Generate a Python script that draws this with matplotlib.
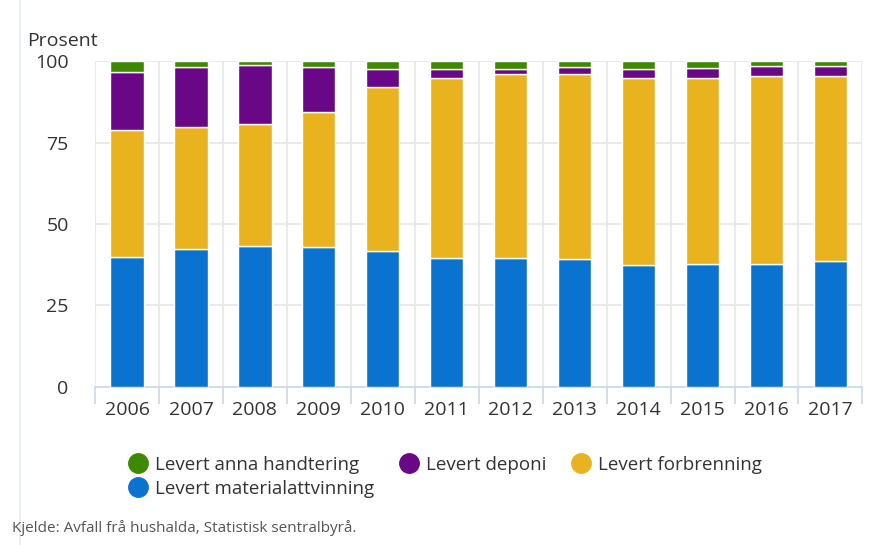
import numpy as np
from matplotlib import pyplot as plt
from matplotlib.lines import Line2D

plt.rcParams['font.family'] = ['Open Sans', 'DejaVu Sans']

years = ['2006', '2007', '2008', '2009', '2010', '2011',
         '2012', '2013', '2014', '2015', '2016', '2017']
# prosentdelar per år
materialattvinning = [40.0, 42.3, 43.3, 43.0, 41.7, 39.6, 39.6, 39.3, 37.4, 37.7, 37.7, 38.7]
forbrenning = [38.8, 37.5, 37.4, 41.3, 50.2, 55.3, 56.4, 56.6, 57.5, 57.2, 57.7, 56.7]
deponi = [17.9, 18.5, 18.1, 14.0, 5.8, 2.7, 1.6, 2.4, 2.7, 3.1, 3.2, 3.2]
anna = [3.3, 1.7, 1.2, 1.7, 2.3, 2.4, 2.4, 1.7, 2.4, 2.0, 1.4, 1.4]

series = [
    ('Levert materialattvinning', materialattvinning, '#0a73cf'),
    ('Levert forbrenning', forbrenning, '#e9b320'),
    ('Levert deponi', deponi, '#6a0787'),
    ('Levert anna handtering', anna, '#3d8a00'),
]

fig = plt.figure(figsize=(8.72, 5.45), dpi=100)
ax = fig.add_axes([0.109, 0.29, 0.88, 0.598])

x = np.arange(len(years))
bottom = np.zeros(len(years))
for name, vals, col in series:
    ax.bar(x, vals, width=0.52, bottom=bottom, color=col, edgecolor='white',
           linewidth=1.0, zorder=3)
    bottom += np.array(vals)

ax.set_xlim(-0.5, len(years) - 0.5)
ax.set_ylim(0, 100)
ax.set_yticks([0, 25, 50, 75, 100])
ax.set_xticks(x)
ax.set_xticklabels(years)
ax.set_xticks(np.arange(-0.5, len(years)), minor=True)

ax.grid(axis='y', color='#e6e6e6', linewidth=1.2, zorder=0)
ax.grid(axis='x', which='minor', color='#e6e6e6', linewidth=1.2, zorder=0)
ax.tick_params(axis='x', which='major', length=0, labelsize=14, colors='#333333', pad=10)
ax.tick_params(axis='x', which='minor', length=12, color='#d0d8e8', width=1.2)
ax.tick_params(axis='y', length=0, labelsize=14, colors='#333333', pad=19)

for side in ['top', 'right', 'left']:
    ax.spines[side].set_visible(False)
ax.spines['bottom'].set_color('#ccd6eb')
ax.spines['bottom'].set_linewidth(1.2)

fig.text(27 / 872, 1 - 41 / 545, 'Prosent', fontsize=14, color='#333333', va='center')

# legend: radvis rekkjefølgje (anna, deponi, forbrenning / materialattvinning)
order = [series[3], series[0], series[2], series[1]]
handles = []
for name, vals, col in order:
    handles.append(Line2D([], [], marker='o', linestyle='', markersize=14,
                          markerfacecolor=col, markeredgecolor=col, label=name))
fig.legend(handles=handles, loc='upper left', bbox_to_anchor=(110 / 872, 1 - 439 / 545),
           ncol=3, frameon=False, fontsize=13.5, handletextpad=0.3,
           columnspacing=1.25, labelspacing=0.3, handlelength=1.2, labelcolor='#333333')

fig.text(12 / 872, 1 - 528 / 545, 'Kjelde: Avfall frå hushalda, Statistisk sentralbyrå.',
         fontsize=11, color='#555555', va='center')

# svak ramme
fig.add_artist(Line2D([20 / 872, 20 / 872], [0.0, 1.0], color='#e8eef7', linewidth=1.5))

fig.savefig('out.png', dpi=100)
